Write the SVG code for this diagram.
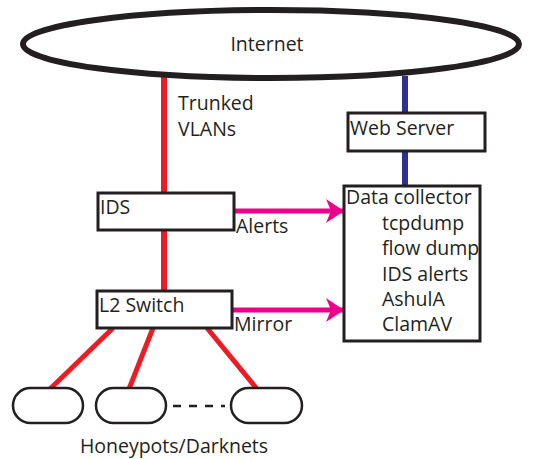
<svg xmlns="http://www.w3.org/2000/svg" width="537" height="459" viewBox="0 0 537 459">
<style>
text{font-family:"Open Sans","Liberation Sans",sans-serif;font-size:19.5px;fill:#231f20}
.box{fill:#fff;stroke:#231f20;stroke-width:3}
.red{stroke:#ed1c24;stroke-width:6;fill:none}
.blue{stroke:#2e3192;stroke-width:6;fill:none}
.mag{stroke:#ec008c;stroke-width:5;fill:none}
.pot{fill:#fff;stroke:#231f20;stroke-width:2.5}
</style>
<defs>
<marker id="ah" markerUnits="userSpaceOnUse" markerWidth="20" markerHeight="26" refX="18" refY="12" orient="auto">
<path d="M0,0 L18,12 L0,24 L5,12 Z" fill="#ec008c"/>
</marker>
</defs>
<g id="connectors">
<line class="red" x1="164" y1="76" x2="164" y2="292"/>
<line class="blue" x1="405" y1="76" x2="405" y2="187"/>
<line class="mag" x1="234" y1="211" x2="344" y2="211" marker-end="url(#ah)"/>
<line class="mag" x1="232" y1="310" x2="344" y2="310" marker-end="url(#ah)"/>
<line class="red" x1="113" y1="328" x2="50" y2="389" style="stroke-width:5"/>
<line class="red" x1="153" y1="328" x2="129" y2="389" style="stroke-width:5"/>
<line class="red" x1="207" y1="328" x2="257" y2="389" style="stroke-width:5"/>
<line x1="173" y1="406" x2="225" y2="406" stroke="#231f20" stroke-width="2.5" stroke-dasharray="8,8"/>
<text x="178" y="110">Trunked</text>
<text x="178" y="136">VLANs</text>
<text x="236" y="233">Alerts</text>
<text x="234" y="331">Mirror</text>
</g>
<g id="internet">
<ellipse cx="271" cy="44" rx="248" ry="34" fill="#fff" stroke="#231f20" stroke-width="6"/>
<text x="267" y="51" text-anchor="middle">Internet</text>
</g>
<g id="webserver">
<rect class="box" x="348" y="113" width="137" height="38"/>
<text x="350" y="135">Web Server</text>
</g>
<g id="ids">
<rect class="box" x="98" y="193" width="136" height="37"/>
<text x="100" y="214">IDS</text>
</g>
<g id="switch">
<rect class="box" x="97" y="291" width="135" height="37"/>
<text x="99" y="312">L2 Switch</text>
</g>
<g id="collector">
<rect class="box" x="344" y="186" width="136" height="155"/>
<text x="346" y="204">Data collector</text>
<text x="382" y="230">tcpdump</text>
<text x="382" y="255">flow dump</text>
<text x="382" y="281">IDS alerts</text>
<text x="382" y="306">AshulA</text>
<text x="382" y="331">ClamAV</text>
</g>
<g id="honeypots">
<rect class="pot" x="13" y="388" width="70" height="35" rx="17.5"/>
<rect class="pot" x="96" y="388" width="70" height="35" rx="17.5"/>
<rect class="pot" x="231" y="388" width="71" height="35" rx="17.5"/>
<text x="174" y="453" text-anchor="middle">Honeypots/Darknets</text>
</g>
</svg>
